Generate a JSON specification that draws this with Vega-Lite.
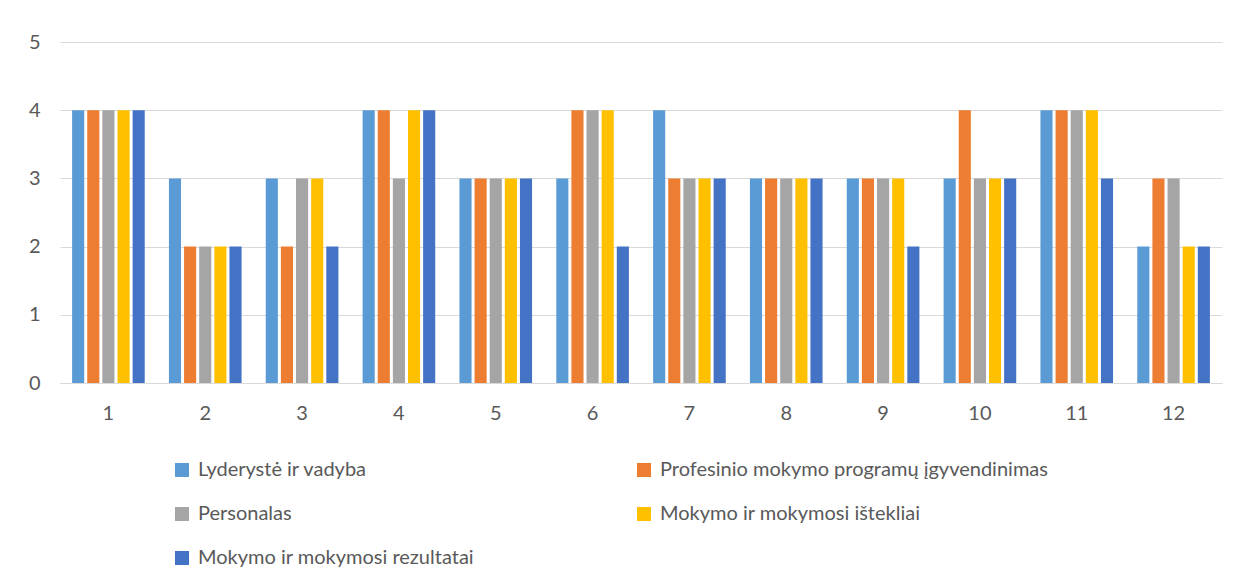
{
  "$schema": "https://vega.github.io/schema/vega-lite/v6.json",
  "width": 1162,
  "height": 341,
  "autosize": {"type": "none"},
  "padding": {"left": 60, "top": 42, "right": 36, "bottom": 203},
  "background": "white",
  "data": {"values": [
    {"g": "1", "s": "Lyderystė ir vadyba", "v": 4},
    {"g": "1", "s": "Profesinio mokymo programų įgyvendinimas", "v": 4},
    {"g": "1", "s": "Personalas", "v": 4},
    {"g": "1", "s": "Mokymo ir mokymosi ištekliai", "v": 4},
    {"g": "1", "s": "Mokymo ir mokymosi rezultatai", "v": 4},
    {"g": "2", "s": "Lyderystė ir vadyba", "v": 3},
    {"g": "2", "s": "Profesinio mokymo programų įgyvendinimas", "v": 2},
    {"g": "2", "s": "Personalas", "v": 2},
    {"g": "2", "s": "Mokymo ir mokymosi ištekliai", "v": 2},
    {"g": "2", "s": "Mokymo ir mokymosi rezultatai", "v": 2},
    {"g": "3", "s": "Lyderystė ir vadyba", "v": 3},
    {"g": "3", "s": "Profesinio mokymo programų įgyvendinimas", "v": 2},
    {"g": "3", "s": "Personalas", "v": 3},
    {"g": "3", "s": "Mokymo ir mokymosi ištekliai", "v": 3},
    {"g": "3", "s": "Mokymo ir mokymosi rezultatai", "v": 2},
    {"g": "4", "s": "Lyderystė ir vadyba", "v": 4},
    {"g": "4", "s": "Profesinio mokymo programų įgyvendinimas", "v": 4},
    {"g": "4", "s": "Personalas", "v": 3},
    {"g": "4", "s": "Mokymo ir mokymosi ištekliai", "v": 4},
    {"g": "4", "s": "Mokymo ir mokymosi rezultatai", "v": 4},
    {"g": "5", "s": "Lyderystė ir vadyba", "v": 3},
    {"g": "5", "s": "Profesinio mokymo programų įgyvendinimas", "v": 3},
    {"g": "5", "s": "Personalas", "v": 3},
    {"g": "5", "s": "Mokymo ir mokymosi ištekliai", "v": 3},
    {"g": "5", "s": "Mokymo ir mokymosi rezultatai", "v": 3},
    {"g": "6", "s": "Lyderystė ir vadyba", "v": 3},
    {"g": "6", "s": "Profesinio mokymo programų įgyvendinimas", "v": 4},
    {"g": "6", "s": "Personalas", "v": 4},
    {"g": "6", "s": "Mokymo ir mokymosi ištekliai", "v": 4},
    {"g": "6", "s": "Mokymo ir mokymosi rezultatai", "v": 2},
    {"g": "7", "s": "Lyderystė ir vadyba", "v": 4},
    {"g": "7", "s": "Profesinio mokymo programų įgyvendinimas", "v": 3},
    {"g": "7", "s": "Personalas", "v": 3},
    {"g": "7", "s": "Mokymo ir mokymosi ištekliai", "v": 3},
    {"g": "7", "s": "Mokymo ir mokymosi rezultatai", "v": 3},
    {"g": "8", "s": "Lyderystė ir vadyba", "v": 3},
    {"g": "8", "s": "Profesinio mokymo programų įgyvendinimas", "v": 3},
    {"g": "8", "s": "Personalas", "v": 3},
    {"g": "8", "s": "Mokymo ir mokymosi ištekliai", "v": 3},
    {"g": "8", "s": "Mokymo ir mokymosi rezultatai", "v": 3},
    {"g": "9", "s": "Lyderystė ir vadyba", "v": 3},
    {"g": "9", "s": "Profesinio mokymo programų įgyvendinimas", "v": 3},
    {"g": "9", "s": "Personalas", "v": 3},
    {"g": "9", "s": "Mokymo ir mokymosi ištekliai", "v": 3},
    {"g": "9", "s": "Mokymo ir mokymosi rezultatai", "v": 2},
    {"g": "10", "s": "Lyderystė ir vadyba", "v": 3},
    {"g": "10", "s": "Profesinio mokymo programų įgyvendinimas", "v": 4},
    {"g": "10", "s": "Personalas", "v": 3},
    {"g": "10", "s": "Mokymo ir mokymosi ištekliai", "v": 3},
    {"g": "10", "s": "Mokymo ir mokymosi rezultatai", "v": 3},
    {"g": "11", "s": "Lyderystė ir vadyba", "v": 4},
    {"g": "11", "s": "Profesinio mokymo programų įgyvendinimas", "v": 4},
    {"g": "11", "s": "Personalas", "v": 4},
    {"g": "11", "s": "Mokymo ir mokymosi ištekliai", "v": 4},
    {"g": "11", "s": "Mokymo ir mokymosi rezultatai", "v": 3},
    {"g": "12", "s": "Lyderystė ir vadyba", "v": 2},
    {"g": "12", "s": "Profesinio mokymo programų įgyvendinimas", "v": 3},
    {"g": "12", "s": "Personalas", "v": 3},
    {"g": "12", "s": "Mokymo ir mokymosi ištekliai", "v": 2},
    {"g": "12", "s": "Mokymo ir mokymosi rezultatai", "v": 2}
  ]},
  "mark": {"type": "bar"},
  "encoding": {
    "x": {
      "field": "g", "type": "nominal", "sort": null,
      "scale": {"paddingInner": 0.25, "paddingOuter": 0.125},
      "axis": {"title": null, "labelAngle": 0, "ticks": false, "domainColor": "#D9D9D9", "domainWidth": 1, "labelPadding": 20}
    },
    "xOffset": {
      "field": "s", "type": "nominal", "sort": null,
      "scale": {"paddingInner": 0.2}
    },
    "y": {
      "field": "v", "type": "quantitative",
      "scale": {"domain": [0, 5], "nice": false},
      "axis": {"title": null, "values": [0, 1, 2, 3, 4, 5], "labelOverlap": false, "domain": false, "ticks": false, "labelPadding": 20, "gridColor": "#D9D9D9", "gridWidth": 1}
    },
    "color": {
      "field": "s", "type": "nominal", "sort": null,
      "scale": {
        "domain": ["Lyderystė ir vadyba", "Profesinio mokymo programų įgyvendinimas", "Personalas", "Mokymo ir mokymosi ištekliai", "Mokymo ir mokymosi rezultatai"],
        "range": ["#5B9BD5", "#ED7D31", "#A5A5A5", "#FFC000", "#4472C4"]
      },
      "legend": {
        "title": null, "orient": "none", "legendX": 112, "legendY": 418,
        "direction": "horizontal",
        "columns": 2, "columnPadding": 159, "rowPadding": 24,
        "symbolType": "square", "symbolSize": 196, "symbolStrokeWidth": 0,
        "labelFontSize": 20, "labelColor": "#595959", "labelFont": "Lato", "labelLimit": 600, "labelOffset": 6
      }
    }
  },
  "config": {
    "view": {"stroke": null},
    "axis": {"labelFont": "Lato", "labelFontSize": 20, "labelColor": "#595959"}
  }
}
